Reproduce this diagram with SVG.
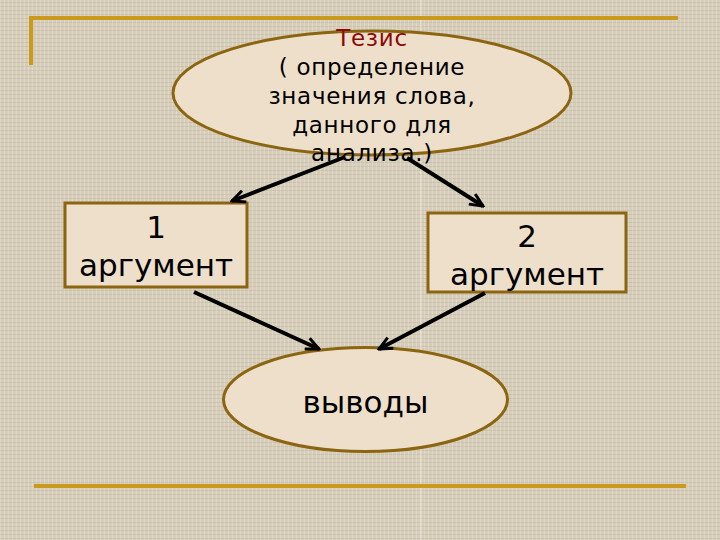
<svg xmlns="http://www.w3.org/2000/svg" width="720" height="540" viewBox="0 0 720 540">
  <defs>
    <pattern id="linen" width="4" height="4" patternUnits="userSpaceOnUse">
      <rect width="4" height="4" fill="#D6CDBB"/>
      <rect x="0" y="0" width="1" height="4" fill="#E6DFD1" opacity="0.6"/>
      <rect x="0" y="2" width="4" height="1" fill="#C4B8A2" opacity="0.5"/>
    </pattern>
    <marker id="arrow" markerUnits="userSpaceOnUse" markerWidth="20" markerHeight="20" refX="0" refY="0" viewBox="-18 -10 20 20" orient="auto">
      <path d="M-13,-6 L0,0 L-13,6" fill="none" stroke="#000" stroke-width="3" stroke-linejoin="miter"/>
    </marker>
    <style>
      .deco { stroke: #C99A1C; stroke-width: 4; fill: none; }
      .node { fill: #EEDFCB; stroke: #8B6510; stroke-width: 3; }
      .txt { font-family: "DejaVu Sans", Verdana, sans-serif; fill: #000; text-anchor: middle; }
      .thesis { font-size: 23px; letter-spacing: 0.7px; }
      .edge { stroke: #000; stroke-width: 4; fill: none; marker-end: url(#arrow); }
    </style>
  </defs>

  <rect width="720" height="540" fill="url(#linen)"/>
  <line x1="421" y1="0" x2="421" y2="540" stroke="#F2EEE6" stroke-width="1" opacity="0.7"/>

  <g id="decoration">
    <polyline class="deco" points="31,65 31,18 678,18"/>
    <line class="deco" x1="34" y1="486" x2="686" y2="486"/>
  </g>

  <g id="thesis">
    <ellipse class="node" cx="372" cy="93" rx="199" ry="62"/>
    <text class="txt thesis" x="372" y="46" style="fill:#8B0A0A">Тезис</text>
    <text class="txt thesis" x="372" y="75">( определение</text>
    <text class="txt thesis" x="372" y="104">значения слова,</text>
    <text class="txt thesis" x="372" y="133">данного для</text>
    <text class="txt thesis" x="372" y="161">анализа.)</text>
  </g>

  <g id="arg1">
    <rect class="node" x="65" y="203" width="182" height="84" stroke-width="2.5"/>
    <text class="txt" font-size="31" x="156" y="238">1</text>
    <text class="txt" font-size="31" x="156" y="276">аргумент</text>
  </g>

  <g id="arg2">
    <rect class="node" x="428" y="213" width="198" height="79" stroke-width="2.5"/>
    <text class="txt" font-size="31" x="527" y="247">2</text>
    <text class="txt" font-size="31" x="527" y="285">аргумент</text>
  </g>

  <g id="conclusions">
    <ellipse class="node" cx="365.5" cy="399.5" rx="142" ry="52"/>
    <text class="txt" font-size="31" x="365.5" y="413">выводы</text>
  </g>

  <g id="connectors">
    <line class="edge" x1="345" y1="157" x2="232" y2="201"/>
    <line class="edge" x1="407" y1="158" x2="483" y2="206"/>
    <line class="edge" x1="194" y1="292" x2="319" y2="349"/>
    <line class="edge" x1="485" y1="293" x2="379" y2="349"/>
  </g>
</svg>
